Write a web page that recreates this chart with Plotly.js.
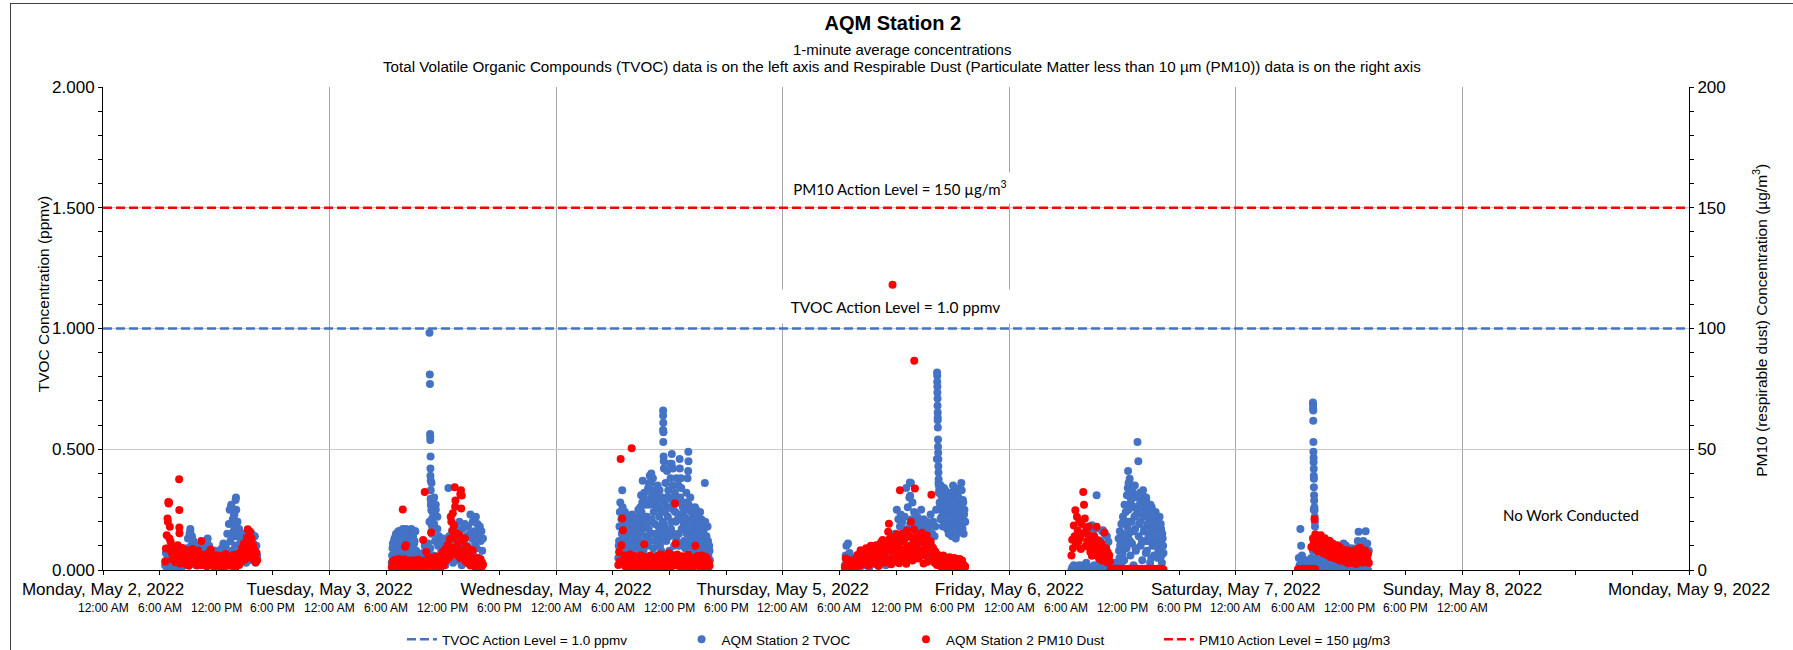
<!DOCTYPE html>
<html><head><meta charset="utf-8">
<script src="https://cdn.plot.ly/plotly-3.0.1.min.js"></script>
<style>
html,body{margin:0;padding:0;background:#fff;}
#wrap{position:relative;width:1793px;height:650px;overflow:hidden;}
#chart{width:1793px;height:650px;}
#frame{position:absolute;left:10px;top:3px;width:1800px;height:700px;border:1px solid #404040;pointer-events:none;}
</style>
</head><body><div id="wrap"><div id="chart"></div><div id="frame"></div></div>
<script>
// ---- data (5-minute readings; main runs start 06:35 each work day) ----
const workDays = ['2022-05-02','2022-05-03','2022-05-04','2022-05-05','2022-05-06','2022-05-07'];
const labelDays = ['2022-05-02','2022-05-03','2022-05-04','2022-05-05','2022-05-06','2022-05-07','2022-05-08'];
const timeLabels = ['12:00 AM','6:00 AM','12:00 PM','6:00 PM'];
const START_MIN = 6*60+35, STEP_MIN = 5;

const tvocMon = [0.02,0.07,0.01,0.05,0.09,0.03,0.06,0.01,0.04,0.08,0.02,0.05,
0.03,0.06,0.01,0.04,0.07,0.02,0.05,0.03,0.06,0.01,0.04,0.07,
0.02,0.05,0.03,0.06,0.09,0.13,0.05,0.15,0.17,0.1,0.14,0.07,
0.12,0.04,0.09,0.02,0.07,0.1,0.03,0.08,0.05,0.1,0.02,0.06,
0.04,0.08,0.11,0.03,0.09,0.12,0.13,0.05,0.1,0.07,0.02,0.06,
0.05,0.02,0.07,0.04,0.08,0.01,0.06,0.03,0.07,0.05,0.02,0.06,
0.09,0.04,0.11,0.06,0.02,0.1,0.07,0.15,0.05,0.19,0.25,0.12,
0.27,0.08,0.21,0.16,0.23,0.1,0.3,0.14,0.2,0.06,0.17,0.11,
0.09,0.14,0.04,0.12,0.07,0.15,0.1,0.03,0.13,0.08,0.16,0.05,
0.12,0.07,0.15,0.04,0.11,0.09,0.14,0.03,0.1,0.06];
const tvocTue = [0.03,0.09,0.05,0.12,0.02,0.14,0.08,0.15,0.04,0.11,0.16,0.07,
0.13,0.02,0.17,0.09,0.05,0.15,0.11,0.03,0.16,0.07,0.13,0.01,
0.1,0.17,0.06,0.14,0.03,0.12,0.16,0.08,0.05,0.07,0.02,0.06,
0.03,0.06,0.01,0.05,0.07,0.02,0.1,0.05,0.08,0.03,0.11,0.06,
0.2,0.09,0.28,0.15,0.24,0.06,0.19,0.12,0.25,0.04,0.17,0.1,
0.14,0.05,0.11,0.08,0.03,0.13,0.07,0.1,0.02,0.09,0.06,0.12,
0.34,0.14,0.05,0.11,0.08,0.16,0.03,0.12,0.07,0.18,0.1,0.04,
0.15,0.09,0.2,0.06,0.13,0.02,0.17,0.11,0.08,0.19,0.05,0.14,
0.1,0.18,0.04,0.15,0.23,0.08,0.13,0.2,0.06,0.16,0.11,0.22,
0.09,0.19,0.14,0.05,0.18,0.12,0.16,0.08,0.13];
const tvocWed = [0.05,0.12,0.24,0.18,0.21,0.33,0.14,0.08,0.19,0.03,0.17,0.11,
0.2,0.06,0.15,0.21,0.09,0.18,0.02,0.13,0.2,0.07,0.16,0.11,
0.19,0.04,0.22,0.12,0.26,0.31,0.17,0.37,0.08,0.32,0.22,0.14,
0.28,0.1,0.34,0.2,0.39,0.05,0.3,0.15,0.38,0.24,0.33,0.12,
0.27,0.06,0.35,0.18,0.22,0.1,0.25,0.14,0.3,0.04,0.19,0.28,
0.36,0.12,0.41,0.22,0.3,0.08,0.44,0.17,0.48,0.35,0.25,0.1,
0.32,0.2,0.38,0.06,0.28,0.15,0.46,0.23,0.34,0.11,0.26,0.18,
0.22,0.09,0.25,0.15,0.38,0.49,0.12,0.2,0.05,0.24,0.16,0.1,
0.21,0.07,0.18,0.25,0.12,0.2,0.03,0.16,0.24,0.09,0.19,0.13,
0.08,0.17,0.36,0.1,0.14,0.05,0.12,0.03,0.08];
const tvocThu = [0.02,0.06,0.1,0.04,0.11,0.01,0.07,0.03,0.05,0.02,0.04,0.01,
0.03,0.05,0.01,0.04,0.02,0.06,0.03,0.01,0.05,0.02,0.04,0.03,
0.05,0.02,0.07,0.04,0.08,0.03,0.06,0.01,0.09,0.05,0.03,0.07,
0.04,0.08,0.1,0.03,0.06,0.09,0.02,0.07,0.05,0.08,0.04,0.06,
0.03,0.07,0.05,0.09,0.02,0.06,0.1,0.04,0.08,0.03,0.06,0.05,
0.09,0.04,0.12,0.07,0.15,0.1,0.25,0.13,0.21,0.06,0.18,0.23,
0.12,0.2,0.08,0.17,0.22,0.05,0.34,0.14,0.26,0.1,0.3,0.19,
0.36,0.21,0.28,0.12,0.24,0.07,0.19,0.15,0.22,0.09,0.17,0.2,
0.14,0.25,0.08,0.18,0.21,0.12,0.16,0.06,0.2,0.11,0.17,0.13,
0.19,0.23,0.1,0.15,0.2,0.08,0.14,0.18,0.25,0.46,0.62,0.36,
0.33,0.26,0.35,0.22,0.3,0.24,0.34,0.27,0.2,0.31,0.17,0.25,
0.15,0.28,0.19,0.32,0.14,0.24,0.3,0.18,0.26,0.13,0.33,0.21,
0.27,0.16,0.34,0.22,0.36,0.19,0.29,0.15,0.25,0.2];
const tvocFri = [0.0,0.01,0.0,0.02,0.0,0.01,0.0,0.0,0.01,0.0,0.02,0.0,
0.01,0.0,0.0,0.02,0.0,0.01,0.0,0.03,0.0,0.01,0.14,0.0,
0.16,0.01,0.185,0.0,0.12,0.02,0.0,0.01,0.31,0.0,0.02,0.0,
0.01,0.0,0.02,0.0,0.165,0.0,0.15,0.01,0.0,0.02,0.0,0.117,
0.0,0.01,0.0,0.02,0.0,0.01,0.0,0.0,0.03,0.01,0.0,0.02,
0.13,0.05,0.1,0.02,0.14,0.07,0.2,0.04,0.12,0.24,0.09,0.18,
0.41,0.15,0.378,0.06,0.27,0.11,0.3,0.02,0.22,0.17,0.08,0.26,
0.53,0.45,0.19,0.32,0.1,0.28,0.04,0.33,0.16,0.23,0.12,0.29,
0.08,0.25,0.14,0.2,0.03,0.18,0.26,0.1,0.21,0.06,0.16,0.24,
0.12,0.19,0.05,0.15,0.22,0.09,0.17,0.03,0.13,0.07];
const tvocSat = [0.0,0.05,0.02,0.17,0.1,0.06,0.0,0.03,0.0,0.02,0.0,0.04,
0.01,0.0,0.03,0.0,0.02,0.05,0.0,0.08,0.25,0.12,0.04,0.0,
0.02,0.0,0.06,0.01,0.0,0.04,0.0,0.07,0.02,0.0,0.05,0.01,
0.0,0.03,0.0,0.06,0.01,0.0,0.04,0.08,0.0,0.02,0.05,0.0,
0.03,0.0,0.07,0.01,0.05,0.0,0.09,0.02,0.0,0.06,0.11,0.0,
0.04,0.1,0.0,0.06,0.02,0.08,0.0,0.05,0.09,0.01,0.07,0.0,
0.06,0.0,0.09,0.03,0.12,0.158,0.0,0.07,0.02,0.1,0.0,0.12,
0.05,0.09,0.16,0.02,0.11,0.0,0.08];

// in-between readings (offset 2.5 min) for the busiest periods
const tvocTueB = [0.06,0.11,0.04,0.13,0.09,0.15,0.05,0.12,0.16,0.1,0.14,0.07,
0.15,0.11,0.06,0.16,0.13,0.04,0.17,0.1,0.14,0.08,0.16,0.12,
0.05,0.13,0.15,0.09,0.11,0.16];
const tvocTueBStart = 6*60+37.5;
const tvocWedB = [0.1,0.18,0.28,0.07,0.15,0.26,0.2,0.12,0.24,0.09,0.14,0.22,
0.13,0.19,0.04,0.17,0.12,0.23,0.1,0.19,0.05,0.14,0.21,0.08,
0.16,0.25,0.1,0.2,0.15,0.24,0.28,0.11,0.3,0.19,0.27,0.2,
0.22,0.33,0.17,0.27,0.12,0.36,0.21,0.32,0.09,0.29,0.19,0.26,
0.15,0.31,0.12,0.26,0.33,0.17,0.08,0.29,0.2,0.13,0.24,0.16,
0.25,0.3,0.17,0.33,0.14,0.26,0.38,0.2,0.29,0.42,0.15,0.3,
0.24,0.13,0.29,0.21,0.35,0.1,0.3,0.38,0.17,0.27,0.2,0.12,
0.28,0.18,0.32,0.1,0.21,0.27,0.17,0.3,0.13,0.2,0.08,0.22,
0.14,0.26,0.1,0.15,0.22,0.06,0.19,0.11,0.17,0.21,0.07,0.15,
0.12,0.05,0.2,0.14,0.08,0.18,0.06,0.1,0.04];
const tvocWedBStart = 6*60+37.5;
const tvocThuB = [0.28,0.21,0.31,0.25,0.18,0.29,0.23,0.33,0.19,0.27,0.22,0.3,
0.2,0.26,0.16,0.29,0.23,0.35,0.18,0.27,0.21,0.31,0.15,0.24,
0.3,0.19,0.26,0.22,0.33,0.17,0.28,0.23,0.2];
const tvocThuBStart = 16*60+37.5;
const tvocFriB = [0.08,0.16,0.11,0.19,0.06,0.22,0.15,0.27,0.1,0.2,0.31,0.14,
0.25,0.33,0.12,0.29,0.2,0.35,0.16,0.26,0.31,0.09,0.23,0.3,
0.24,0.14,0.3,0.2,0.26,0.12,0.31,0.22,0.17,0.28,0.07,0.25,
0.19,0.12,0.23,0.16,0.27,0.05,0.2,0.24,0.13,0.18,0.22,0.1,
0.16,0.2,0.08,0.18,0.12,0.19,0.06,0.15,0.1];
const tvocFriBStart = 11*60+37.5;

const pm10Mon = [3.5,8.9,14.4,21.3,28.2,27.9,17.9,11.7,7.2,4.5,9.4,5.8,
6.1,3.2,8.4,5.0,10.2,4.1,7.3,2.6,6.8,4.4,9.1,5.5,
3.8,6.9,2.4,8.2,4.7,5.9,1.8,7.6,3.3,6.2,4.0,8.7,
5.1,2.7,7.4,3.6,6.0,1.9,8.1,4.3,5.6,2.2,12.0,3.9,
4.8,2.1,6.3,3.4,5.5,1.6,4.2,7.0,2.8,5.0,8.5,3.1,
2.5,5.3,1.4,4.6,3.0,6.1,1.8,4.0,2.3,5.7,3.5,1.2,
4.4,2.0,5.8,3.2,1.5,6.6,2.7,4.9,1.9,5.2,3.6,2.4,
5.0,1.7,3.9,6.2,2.5,4.6,1.3,5.5,3.0,6.8,2.1,4.3,
7.4,3.5,9.2,5.1,11.0,4.2,8.0,6.0,13.5,16.9,10.3,5.4,
15.8,8.6,13.0,4.7,10.3,6.5,8.0,3.2,7.1,4.0];
const pm10Tue = [1.2,3.5,0.6,2.8,4.1,1.5,0.9,3.2,2.0,4.6,1.1,2.5,
3.0,0.8,25.1,2.2,4.4,9.6,10.3,1.6,3.7,2.4,0.7,3.9,
1.9,3.3,0.5,2.7,4.0,1.3,2.9,0.8,3.6,1.7,4.2,2.1,
0.9,3.1,1.8,2.6,12.4,3.8,32.3,2.3,7.5,1.4,4.5,2.0,
3.4,2.0,15.5,5.1,2.7,4.0,0.8,3.5,2.2,5.6,1.5,3.0,
2.4,4.8,1.0,6.2,3.3,7.5,2.0,5.4,8.6,3.9,6.9,10.3,
10.3,5.2,12.8,22.0,7.4,9.1,13.5,18.5,34.3,28.8,6.3,15.2,
11.0,7.8,14.4,4.9,33.0,30.9,12.1,8.4,5.7,13.0,3.6,9.5,
6.0,2.8,8.8,4.5,1.9,5.3,3.2,8.2,2.5,4.7,1.3,3.8,
2.9,5.0,1.6,3.7,2.4,4.4,1.1,3.0,2.2];
const pm10Wed = [2.1,7.5,3.6,46.0,10.3,21.3,16.5,4.0,6.0,1.5,4.8,2.6,
5.3,1.2,3.9,6.4,2.0,50.4,4.5,1.0,5.8,2.9,3.5,0.8,
3.1,5.0,1.6,4.2,2.5,6.1,0.9,3.8,2.2,10.7,4.6,1.3,
4.0,2.4,5.5,1.1,3.3,6.0,2.0,4.7,1.4,3.6,5.2,2.8,
1.8,4.4,2.6,5.9,1.2,3.7,6.5,2.3,4.1,1.0,5.0,3.0,
2.2,5.6,1.5,4.3,7.0,2.7,3.9,1.3,6.2,3.4,4.9,2.0,
27.5,11.0,3.5,6.4,1.8,5.1,2.9,4.5,1.2,3.8,5.7,2.4,
4.2,1.6,5.4,3.1,2.0,6.3,1.4,4.0,2.6,5.1,0.9,3.5,
2.8,4.9,10.0,1.9,3.6,5.8,2.2,4.4,1.1,3.9,6.0,2.5,
4.1,1.7,3.3,5.5,2.0,4.6,1.0,3.2,1.8];
const pm10Thu = [1.0,4.8,2.2,3.5,0.7,2.9,1.6,4.0,0.9,3.1,2.0,1.3,
3.6,1.1,4.4,2.5,6.2,1.8,5.0,3.0,8.2,2.2,6.8,4.1,
7.5,2.9,5.6,9.0,3.4,6.7,1.9,8.1,4.6,10.0,3.3,7.2,
5.1,9.6,2.6,7.8,10.3,4.2,6.4,1.7,8.9,5.5,11.5,3.8,
12.4,6.0,9.4,3.1,7.7,10.6,4.5,15.8,19.2,12.9,8.3,2.4,
11.1,5.3,13.6,7.0,3.5,9.8,14.8,6.1,10.9,2.8,33.0,12.0,
8.6,15.0,4.4,11.7,6.9,13.2,2.6,16.4,9.3,5.0,14.1,7.6,
20.0,10.2,3.9,12.5,16.8,33.7,6.5,9.0,14.6,4.8,11.4,7.3,
13.0,5.9,15.4,8.1,2.7,12.4,10.0,6.6,14.4,3.4,9.7,12.0,
7.0,11.8,31.2,4.1,9.2,6.0,3.0,7.7,5.2,2.1,6.3,4.0,
3.3,5.8,1.5,4.7,2.6,6.0,1.2,3.9,5.1,2.0,4.4,0.9,
3.0,5.3,1.8,4.2,2.4,0.8,3.7,5.0,1.4,2.9,4.5,1.1,
3.4,2.0,4.6,0.7,2.7,3.9,1.3,2.2,0.6,1.5];
const pm10Fri = [6.0,12.5,9.0,18.4,14.0,24.7,10.7,22.1,16.3,11.8,20.5,13.2,
8.7,19.0,15.1,32.3,27.0,21.3,9.8,17.2,12.0,14.6,18.0,10.4,
7.5,13.4,5.9,11.2,8.6,14.0,6.3,10.1,17.9,7.0,12.3,4.8,
9.5,5.4,11.0,3.9,8.2,6.6,15.5,4.5,9.0,3.2,7.4,5.0,
6.1,3.5,0.4,0.3,0.5,0.2,0.4,0.3,0.5,0.2,0.4,0.3,
0.3,0.4,0.2,0.5,0.3,0.4,0.2,0.3,0.5,0.4,0.3,0.2,
0.4,0.3,0.5,0.2,0.4,0.3,0.2,0.5,0.3,0.4,0.2,0.3,
0.5,0.3,0.4,0.2,0.3,0.5,0.4,0.2,0.3,0.4,0.5,0.3,
0.2,0.4,0.3,0.5,0.2,0.3,0.4,0.3,0.5,0.2,0.4,0.3,
0.3,0.5,0.2,0.4,0.3,0.2,0.4,0.5,0.3,0.2];
const pm10Sat = [0.3,0.2,0.4,0.3,0.2,0.4,0.3,0.5,0.2,0.3,0.4,0.2,
0.3,0.4,0.2,0.3,0.5,9.5,0.3,13.0,11.2,21.0,14.8,8.6,
12.4,7.8,13.6,9.9,11.0,14.4,8.3,12.7,6.9,10.5,13.1,7.5,
11.8,6.2,10.0,8.6,12.1,5.4,9.3,7.1,11.0,6.5,9.6,4.9,
8.8,5.6,10.2,4.3,7.9,9.4,3.8,7.0,5.1,8.5,4.0,6.6,
7.7,3.3,6.0,8.2,2.8,5.5,7.1,4.2,6.8,3.0,5.9,8.0,
4.6,7.4,2.5,6.3,8.6,3.9,5.8,9.2,4.4,7.0,3.1,6.1,
5.2,8.1,3.6,7.3,4.8,6.6,2.9];

// individual readings inside short spikes
const tvocExtraTimes = ['2022-05-02 13:36','2022-05-02 13:52','2022-05-02 14:03','2022-05-02 14:07','2022-05-02 13:57','2022-05-02 13:45','2022-05-02 09:15','2022-05-02 09:22',
'2022-05-03 10:35','2022-05-03 10:37','2022-05-03 10:38','2022-05-03 10:39','2022-05-03 10:40','2022-05-03 10:40','2022-05-03 10:42','2022-05-03 10:41','2022-05-03 10:41','2022-05-03 10:43','2022-05-03 10:48','2022-05-03 10:43','2022-05-03 10:42','2022-05-03 10:44','2022-05-03 10:47','2022-05-03 10:52','2022-05-03 10:50','2022-05-03 10:54','2022-05-03 11:05','2022-05-03 11:15','2022-05-03 11:25',
'2022-05-04 11:20','2022-05-04 11:20','2022-05-04 11:21','2022-05-04 11:20','2022-05-04 11:22','2022-05-04 11:21','2022-05-04 11:23','2022-05-04 11:24','2022-05-04 11:25','2022-05-04 12:14','2022-05-04 13:06','2022-05-04 14:01','2022-05-04 13:59','2022-05-04 09:50','2022-05-04 10:05',
'2022-05-05 16:21','2022-05-05 16:22','2022-05-05 16:22','2022-05-05 16:23','2022-05-05 16:23','2022-05-05 16:24','2022-05-05 16:24','2022-05-05 16:25','2022-05-05 16:25','2022-05-05 16:26','2022-05-05 16:27','2022-05-05 16:27','2022-05-05 16:28','2022-05-05 16:29','2022-05-05 16:29','2022-05-05 16:30','2022-05-05 16:31','2022-05-05 16:32','2022-05-05 16:33','2022-05-05 13:28','2022-05-05 13:30',
'2022-05-06 08:30','2022-05-06 08:50','2022-05-06 09:05','2022-05-06 09:40','2022-05-06 09:50','2022-05-06 10:15','2022-05-06 10:20','2022-05-06 12:38','2022-05-06 12:33','2022-05-06 13:00','2022-05-06 13:18','2022-05-06 13:36','2022-05-06 14:30','2022-05-06 12:42','2022-05-06 13:48',
'2022-05-07 08:10','2022-05-07 08:11','2022-05-07 08:11','2022-05-07 08:12','2022-05-07 08:12','2022-05-07 08:13','2022-05-07 08:13','2022-05-07 08:14','2022-05-07 08:14','2022-05-07 08:15','2022-05-07 08:15','2022-05-07 08:16','2022-05-07 08:16','2022-05-07 08:17','2022-05-07 08:18','2022-05-07 08:19','2022-05-07 08:20','2022-05-07 08:21','2022-05-07 08:22','2022-05-07 08:23'];
const tvocExtraValues = [0.265,0.225,0.29,0.25,0.18,0.14,0.16,0.13,
0.982,0.81,0.77,0.563,0.554,0.538,0.47,0.42,0.39,0.37,0.36,0.33,0.295,0.268,0.247,0.213,0.185,0.17,0.3,0.27,0.22,
0.66,0.64,0.61,0.58,0.57,0.53,0.47,0.45,0.42,0.44,0.42,0.45,0.41,0.36,0.4,
0.818,0.804,0.78,0.76,0.735,0.71,0.68,0.652,0.631,0.59,0.54,0.51,0.486,0.459,0.43,0.404,0.376,0.35,0.32,0.362,0.307,
0.15,0.13,0.17,0.12,0.16,0.1,0.14,0.36,0.34,0.33,0.35,0.31,0.3,0.2,0.27,
0.694,0.683,0.67,0.66,0.618,0.53,0.49,0.465,0.446,0.419,0.39,0.378,0.343,0.31,0.288,0.26,0.247,0.22,0.2,0.18];
const pm10ExtraTimes = ['2022-05-02 08:04','2022-05-02 08:05','2022-05-02 08:05','2022-05-02 08:06','2022-05-02 06:52','2022-05-02 06:57','2022-05-02 07:02',
'2022-05-03 12:54','2022-05-03 13:00','2022-05-03 13:03','2022-05-03 13:18','2022-05-03 13:51','2022-05-03 13:57',
'2022-05-05 11:38','2022-05-05 13:56',
'2022-05-07 08:05','2022-05-07 08:10','2022-05-07 08:20','2022-05-07 08:25'];
const pm10ExtraValues = [37.6,24.8,17.6,15.2,20.0,27.5,13.0,
20.0,16.4,23.5,26.2,31.5,25.5,
118.1,86.6,
0.3,0.4,0.2,0.3];

const tvocActionLevel = 1.0, pm10ActionLevel = 150;
const levelSpan = ['2022-05-02 00:00','2022-05-09 00:00'];

// ---- build traces ----
function pad(n){return (n<10?'0':'')+n;}
function times(day,n,start){const o=[];for(let i=0;i<n;i++){const s=Math.round((start+STEP_MIN*i)*60);
  o.push(day+' '+pad(Math.floor(s/3600))+':'+pad(Math.floor(s/60)%60)+':'+pad(s%60));}return o;}
const tvocDays=[tvocMon,tvocTue,tvocWed,tvocThu,tvocFri,tvocSat];
const pmDays=[pm10Mon,pm10Tue,pm10Wed,pm10Thu,pm10Fri,pm10Sat];
let tvX=[],tvY=[],pmX=[],pmY=[];
workDays.forEach((d,i)=>{tvX=tvX.concat(times(d,tvocDays[i].length,START_MIN));tvY=tvY.concat(tvocDays[i]);
  pmX=pmX.concat(times(d,pmDays[i].length,START_MIN));pmY=pmY.concat(pmDays[i]);});
[[workDays[1],tvocTueB,tvocTueBStart],[workDays[2],tvocWedB,tvocWedBStart],[workDays[3],tvocThuB,tvocThuBStart],[workDays[4],tvocFriB,tvocFriBStart]]
 .forEach(r=>{tvX=tvX.concat(times(r[0],r[1].length,r[2]));tvY=tvY.concat(r[1]);});
tvX=tvX.concat(tvocExtraTimes);tvY=tvY.concat(tvocExtraValues);
pmX=pmX.concat(pm10ExtraTimes);pmY=pmY.concat(pm10ExtraValues);

const BLUE='#4472c4', RED='#ff0000';
const AR='Liberation Sans, Arial, sans-serif';
const CAL='Lato, Carlito, Calibri, sans-serif';
const legFont={family:AR,size:13.5,color:'#000'};
const MS=8;

const traces=[
 {x:levelSpan,y:[tvocActionLevel,tvocActionLevel],mode:'lines',name:'TVOC Action Level = 1.0 ppmv',
  line:{color:BLUE,width:2.5,dash:'9px,4px'},legend:'legend',hoverinfo:'skip'},
 {x:tvX,y:tvY,mode:'markers',type:'scatter',name:'AQM Station 2 TVOC',marker:{color:BLUE,size:MS,line:{width:0}},legend:'legend2'},
 {x:pmX,y:pmY,mode:'markers',type:'scatter',name:'AQM Station 2 PM10 Dust',yaxis:'y2',marker:{color:RED,size:MS,line:{width:0}},legend:'legend3'},
 {x:levelSpan,y:[pm10ActionLevel,pm10ActionLevel],mode:'lines',name:'PM10 Action Level = 150 µg/m3',yaxis:'y2',
  line:{color:RED,width:2.5,dash:'9px,4px'},legend:'legend4',hoverinfo:'skip'}
];

const anns=[];
labelDays.forEach((d,i)=>{
  const n = (i===labelDays.length-1)?1:4;
  for(let k=0;k<n;k++){
    anns.push({x:d+' '+pad(k*6)+':00',xref:'x',y:0,yref:'paper',yshift:-38,text:timeLabels[k],showarrow:false,
      xanchor:'center',yanchor:'middle',font:{family:AR,size:12,color:'#000'}});
  }
});
anns.push({xref:'paper',x:0.5035,yref:'paper',y:1.0786,text:'1-minute average concentrations',showarrow:false,font:{family:AR,size:15,color:'#000'},yanchor:'middle'});
anns.push({xref:'paper',x:0.5035,yref:'paper',y:1.0434,text:'Total Volatile Organic Compounds (TVOC) data is on the left axis and Respirable Dust (Particulate Matter less than 10 µm (PM10)) data is on the right axis',showarrow:false,font:{family:AR,size:15.2,color:'#000'},yanchor:'middle'});
anns.push({xref:'paper',x:-0.0441,yref:'paper',y:0.57,text:'TVOC Concentration (ppmv)',textangle:-90,showarrow:false,font:{family:AR,size:15.5,color:'#000'}});
anns.push({xref:'paper',x:1.0523,yref:'paper',y:0.518,text:'PM10 (respirable dust) Concentration (µg/m<sup>3</sup>)',textangle:-90,showarrow:false,font:{family:AR,size:15.5,color:'#000'}});
anns.push({x:'2022-05-05 12:25',xref:'x',y:1.582,yref:'y',text:'PM10 Action Level = 150 µg/m<sup>3</sup>',showarrow:false,
  bgcolor:'#fff',borderpad:2,width:222,height:26,font:{family:CAL,size:15,color:'#000'}});
anns.push({x:'2022-05-05 11:55',xref:'x',y:1.09,yref:'y',text:'TVOC Action Level = 1.0 ppmv',showarrow:false,align:'center',
  bgcolor:'#fff',borderpad:2,width:229,height:29,font:{family:CAL,size:15.5,color:'#000'}});
anns.push({x:'2022-05-08 11:30',xref:'x',y:0.226,yref:'y',text:'No Work Conducted',showarrow:false,font:{family:CAL,size:15,color:'#000'}});

function leg(x){return {x:x,y:-0.144,xanchor:'left',yanchor:'middle',orientation:'h',font:legFont,bgcolor:'rgba(0,0,0,0)',borderwidth:0};}

const layout={
 width:1793,height:650,paper_bgcolor:'#fff',plot_bgcolor:'#fff',
 margin:{l:103,r:104,t:87,b:80,autoexpand:false},
 title:{text:'<b>AQM Station 2</b>',font:{family:AR,size:20,color:'#000'},x:0.498,xanchor:'center',y:0.9646,yanchor:'middle'},
 showlegend:true,
 legend:leg(0.1885),legend2:leg(0.3648),legend3:leg(0.5063),legend4:leg(0.6658),
 xaxis:{type:'date',range:levelSpan,dtick:86400000,tick0:'2022-05-02',tickformat:'%A, %B %-d, %Y',
  showgrid:true,gridcolor:'#a6a6a6',gridwidth:1,ticks:'outside',ticklen:4,tickcolor:'#000',
  showline:true,linecolor:'#000',linewidth:1,zeroline:false,automargin:false,
  minor:{dtick:21600000,ticks:'outside',ticklen:4,tickcolor:'#000',showgrid:false},
  tickfont:{family:AR,size:17,color:'#000'}},
 yaxis:{range:[0,2],dtick:0.5,tickformat:'.3f',showgrid:true,gridcolor:'#c8c8c8',gridwidth:1,
  ticks:'outside',ticklen:4,tickcolor:'#000',showline:true,linecolor:'#000',linewidth:1,zeroline:false,automargin:false,
  minor:{dtick:0.1,ticks:'outside',ticklen:4,tickcolor:'#000',showgrid:false},
  tickfont:{family:AR,size:17,color:'#000'}},
 yaxis2:{range:[0,200],overlaying:'y',side:'right',dtick:50,showgrid:false,
  ticks:'outside',ticklen:4,tickcolor:'#000',showline:true,linecolor:'#000',linewidth:1,zeroline:false,automargin:false,
  minor:{dtick:10,ticks:'outside',ticklen:4,tickcolor:'#000',showgrid:false},
  tickfont:{family:AR,size:17,color:'#000'}},
 annotations:anns,
 hovermode:false
};
Plotly.newPlot('chart',traces,layout,{staticPlot:true,displayModeBar:false});
</script></body></html>
